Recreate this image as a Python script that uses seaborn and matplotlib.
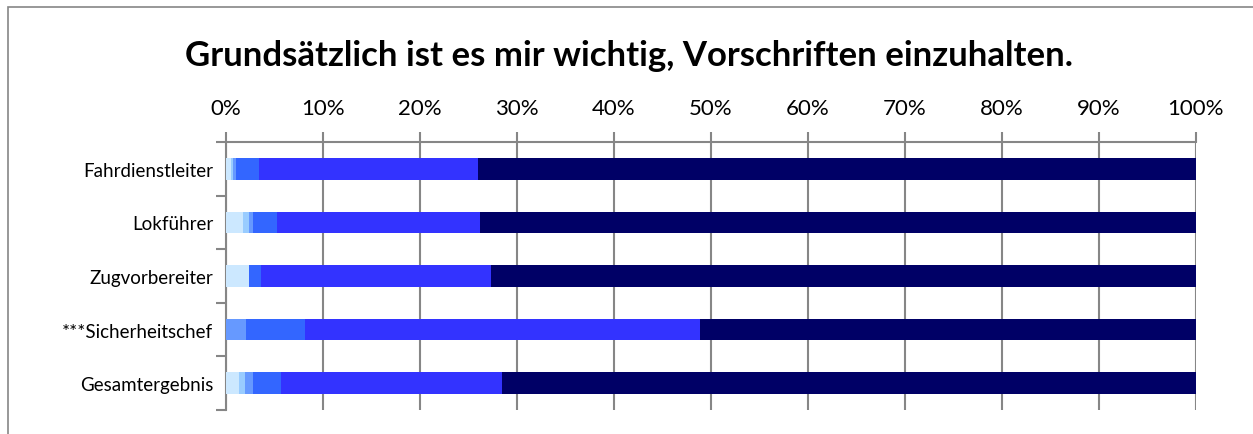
import numpy as np
import pandas as pd
import seaborn as sns
import matplotlib.pyplot as plt
from matplotlib.patches import Rectangle

# categories (top to bottom) and shares per answer level, in percent
categories = ["Fahrdienstleiter", "Lokführer", "Zugvorbereiter",
              "***Sicherheitschef", "Gesamtergebnis"]
level_1 = [0.50, 1.75, 2.40, 0.00, 1.37]
level_2 = [0.27, 0.69, 0.00, 0.00, 0.62]
level_3 = [0.28, 0.41, 0.00, 2.06, 0.82]
level_4 = [2.40, 2.41, 1.20, 6.08, 2.86]
level_5 = [22.60, 20.93, 23.80, 40.80, 22.78]
level_6 = [73.95, 73.81, 72.60, 51.06, 71.55]
colors = ["#CCE8FF", "#99CCFF", "#6699FF", "#3366FF", "#3333FF", "#000066"]

title = "Grundsätzlich ist es mir wichtig, Vorschriften einzuhalten."

levels = [level_1, level_2, level_3, level_4, level_5, level_6]
cum = np.cumsum(np.array(levels), axis=0)

sns.set_style("white")
plt.rcParams["font.family"] = ["Lato", "DejaVu Sans"]
plt.rcParams["text.color"] = "black"
plt.rcParams["xtick.labelcolor"] = "black"
plt.rcParams["ytick.labelcolor"] = "black"

fig = plt.figure(figsize=(12.53, 4.35), dpi=100)
ax = fig.add_axes([225.7 / 1253, (435 - 411) / 435, 970 / 1253, 268 / 435])

# stacked bars: draw cumulative totals from the largest down
for i in range(len(levels) - 1, -1, -1):
    df = pd.DataFrame({"cat": categories, "val": cum[i]})
    sns.barplot(data=df, x="val", y="cat", color=colors[i], width=0.4,
                saturation=1, edgecolor="none", ax=ax, zorder=3)

ax.set_xlim(0, 100)
ax.set_ylim(4.5, -0.5)
ax.set_xlabel("")
ax.set_ylabel("")

# percentage axis on top
ax.xaxis.tick_top()
ax.set_xticks(np.arange(0, 101, 10))
ax.set_xticklabels([f"{t}%" for t in range(0, 101, 10)], fontsize=16)
ax.tick_params(axis="x", which="both", direction="out", length=7, width=1.5,
               color="#868686", pad=10, top=True, bottom=False,
               labelcolor="black")
ax.grid(axis="x", color="#868686", linewidth=1.5, zorder=0)

# category axis: tick marks between categories
ax.set_yticks(range(len(categories)))
ax.set_yticklabels(categories, fontsize=13.5)
ax.set_yticks(np.arange(-0.5, len(categories), 1), minor=True)
ax.tick_params(axis="y", which="major", length=0, pad=9, labelcolor="black")
ax.tick_params(axis="y", which="minor", direction="out", length=7, width=1.5,
               color="#868686", left=True)

for side in ["bottom", "right"]:
    ax.spines[side].set_visible(False)
for side in ["top", "left"]:
    ax.spines[side].set_color("#868686")
    ax.spines[side].set_linewidth(1.5)

fig.text(629 / 1253, 1 - 56 / 435, title, ha="center", va="center",
         fontsize=25, fontweight="bold", color="black")

# chart frame
fig.patches.append(Rectangle((8 / 1253, -0.1), 1.1, 1 - 8 / 435 + 0.1,
                             transform=fig.transFigure, fill=False,
                             edgecolor="#868686", linewidth=1.2))

fig.savefig("out.png", dpi=100)
